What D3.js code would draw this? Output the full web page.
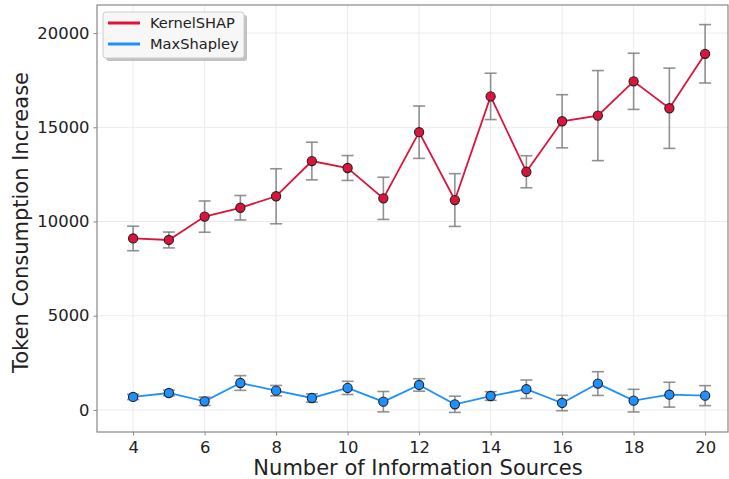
<!DOCTYPE html>
<html>
<head>
<meta charset="utf-8">
<script src="https://cdn.jsdelivr.net/npm/d3@7"></script>
<style>
  body { margin: 0; background: #fff; }
  svg { display: block; font-family: "DejaVu Sans", sans-serif; }
</style>
</head>
<body>
<div id="chart"></div>
<script>
const sources = [4, 5, 6, 7, 8, 9, 10, 11, 12, 13, 14, 15, 16, 17, 18, 19, 20];
const kernelMean = [9100, 9020, 10260, 10730, 11340, 13210, 12840, 11230, 14740, 11140, 16640, 12640, 15320, 15620, 17440, 16010, 18900];
const kernelErr = [650, 420, 830, 650, 1460, 1000, 660, 1120, 1390, 1400, 1230, 850, 1410, 2390, 1490, 2130, 1550];
const maxMean = [690, 900, 460, 1430, 1025, 635, 1170, 440, 1326, 300, 740, 1100, 370, 1400, 495, 810, 760];
const maxErr = [140, 150, 220, 390, 275, 220, 350, 540, 330, 430, 230, 490, 410, 630, 600, 660, 530];
const xTicks = [4, 6, 8, 10, 12, 14, 16, 18, 20];
const yTicks = [0, 5000, 10000, 15000, 20000];

const series = [
    { name: "KernelSHAP", color: "#dc143c", mean: kernelMean, err: kernelErr },
    { name: "MaxShapley", color: "#1e90ff", mean: maxMean, err: maxErr }
];

const W = 729, H = 479;
const pl = 97, pr = 728, pt = 5, pb = 432;

const svg = d3.select("#chart").append("svg")
    .attr("width", W)
    .attr("height", H);

const x = d3.scaleLinear().domain([2.99, 20.64]).range([pl, pr]);
const y = d3.scaleLinear().domain([-1170, 21490]).range([pb, pt]);

// grid
svg.append("g")
    .selectAll("line")
    .data(xTicks)
    .enter().append("line")
    .attr("x1", d => x(d)).attr("x2", d => x(d))
    .attr("y1", pt).attr("y2", pb)
    .attr("stroke", "#ebebeb").attr("stroke-width", 1);

svg.append("g")
    .selectAll("line")
    .data(yTicks)
    .enter().append("line")
    .attr("x1", pl).attr("x2", pr)
    .attr("y1", d => y(d)).attr("y2", d => y(d))
    .attr("stroke", "#ebebeb").attr("stroke-width", 1);

// axes
const xAxis = svg.append("g")
    .attr("transform", "translate(0," + pb + ")")
    .call(d3.axisBottom(x).tickValues(xTicks).tickSize(3.5).tickPadding(5.5).tickFormat(d3.format("d")));
const yAxis = svg.append("g")
    .attr("transform", "translate(" + pl + ",0)")
    .call(d3.axisLeft(y).tickValues(yTicks).tickSize(3.5).tickPadding(4).tickFormat(d3.format("d")));

[xAxis, yAxis].forEach(a => {
    a.select(".domain").remove();
    a.selectAll(".tick line").attr("stroke", "#888");
    a.selectAll(".tick text")
        .style("font-family", "DejaVu Sans")
        .style("font-size", "16.4px")
        .attr("fill", "#222");
});

// frame
svg.append("rect")
    .attr("x", pl).attr("y", pt)
    .attr("width", pr - pl).attr("height", pb - pt)
    .attr("fill", "none").attr("stroke", "#888").attr("stroke-width", 1.2);

// data
const line = d3.line()
    .x((d, i) => x(sources[i]))
    .y(d => y(d));

series.forEach(s => {
    const g = svg.append("g");
    const bars = g.selectAll("g.err")
        .data(s.mean)
        .enter().append("g");
    bars.append("line")
        .attr("x1", (d, i) => x(sources[i])).attr("x2", (d, i) => x(sources[i]))
        .attr("y1", (d, i) => y(d - s.err[i])).attr("y2", (d, i) => y(d + s.err[i]))
        .attr("stroke", "#7f7f7f").attr("stroke-width", 1.6).attr("opacity", 0.85);
    [-1, 1].forEach(sign => {
        bars.append("line")
            .attr("x1", (d, i) => x(sources[i]) - 6).attr("x2", (d, i) => x(sources[i]) + 6)
            .attr("y1", (d, i) => y(d + sign * s.err[i])).attr("y2", (d, i) => y(d + sign * s.err[i]))
            .attr("stroke", "#7f7f7f").attr("stroke-width", 1.6).attr("opacity", 0.85);
    });
    g.append("path")
        .datum(s.mean)
        .attr("d", line)
        .attr("fill", "none")
        .attr("stroke", s.color)
        .attr("stroke-width", 1.8);
    g.selectAll("circle")
        .data(s.mean)
        .enter().append("circle")
        .attr("cx", (d, i) => x(sources[i]))
        .attr("cy", d => y(d))
        .attr("r", 4.6)
        .attr("fill", s.color)
        .attr("stroke", "#222")
        .attr("stroke-width", 1.1);
});

// labels
svg.append("text")
    .attr("x", 418)
    .attr("y", 475)
    .attr("text-anchor", "middle")
    .style("font-size", "21px")
    .attr("fill", "#222")
    .text("Number of Information Sources");

svg.append("text")
    .attr("transform", "translate(27.5,222.5) rotate(-90)")
    .attr("text-anchor", "middle")
    .style("font-size", "21px")
    .attr("fill", "#222")
    .text("Token Consumption Increase");

// legend
const leg = svg.append("g").attr("transform", "translate(103,12)");
leg.append("rect")
    .attr("x", 3).attr("y", 3).attr("width", 141).attr("height", 46).attr("rx", 3)
    .attr("fill", "#999").attr("opacity", 0.6);
leg.append("rect")
    .attr("width", 141).attr("height", 46).attr("rx", 3)
    .attr("fill", "#f7f7f7").attr("stroke", "#ccc");
series.forEach((s, i) => {
    const yy = 11 + i * 21;
    leg.append("line")
        .attr("x1", 5).attr("x2", 37).attr("y1", yy).attr("y2", yy)
        .attr("stroke", s.color).attr("stroke-width", 3);
    leg.append("text")
        .attr("x", 47).attr("y", yy + 5.3)
        .style("font-size", "14.6px")
        .attr("fill", "#222")
        .text(s.name);
});
</script>
</body>
</html>
